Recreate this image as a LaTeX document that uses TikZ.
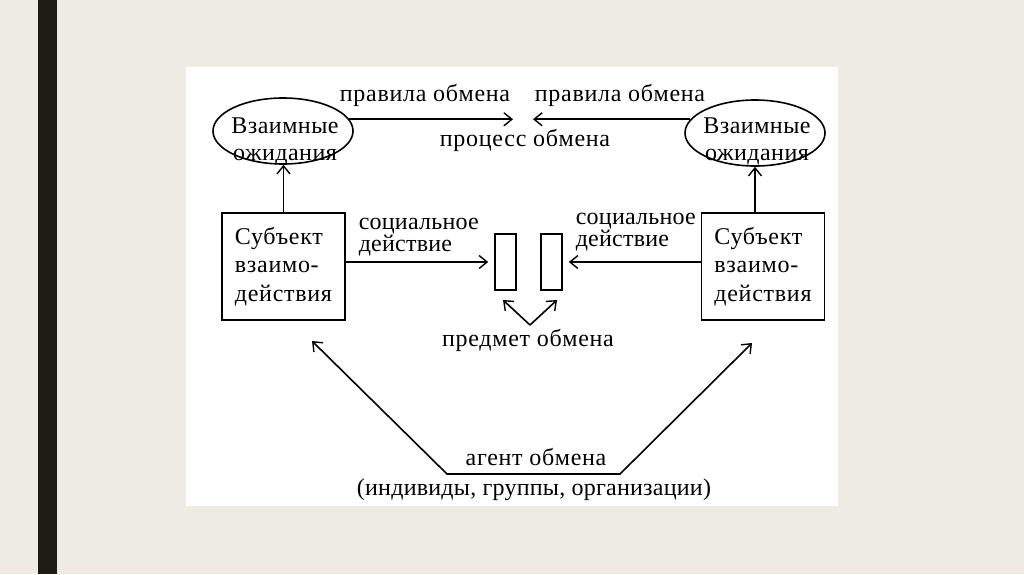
\documentclass[tikz,border=0pt]{standalone}
\usepackage{fontspec}
\setmainfont{Liberation Serif}[LetterSpace=3]
\usetikzlibrary{arrows.meta,shapes.geometric}
\definecolor{bg}{RGB}{237,235,228}
\definecolor{barc}{RGB}{28,28,18}
\begin{document}
\begin{tikzpicture}[x=1pt,y=-1pt,line width=1.6pt,
  barb/.tip={Straight Barb[length=8pt,width=13pt,line width=1.4pt]},
  arr/.style={-barb},
  lbl/.style={font=\fontsize{24}{27}\selectfont,inner sep=0pt},
  small/.style={font=\fontsize{24}{20}\selectfont\addfontfeature{LetterSpace=1},inner sep=0pt,align=left},
  ell/.style={draw,ellipse,minimum width=140pt,minimum height=66pt,inner sep=0pt},
  subj/.style={draw,minimum width=123pt,minimum height=107pt,inner sep=0pt,align=left,
    font=\fontsize{24}{28.5}\selectfont},
  obj/.style={draw,minimum width=21pt,minimum height=56pt,inner sep=0pt}]
\useasboundingbox (0,0) rectangle (1024,574);
\fill[bg] (0,0) rectangle (1024,574);
\fill[barc] (38,0) rectangle (57,574);
\fill[white] (186,67) rectangle (838,506);
% ellipses
\node[ell] (e1) at (283,131) {};
\node[lbl,align=center,font=\fontsize{24}{27}\selectfont\addfontfeature{LetterSpace=2}] (t1) at (285,141) {Взаимные\\ожидания};
\node[ell] (e2) at (755,133) {};
\node[lbl,align=center,font=\fontsize{24}{27}\selectfont\addfontfeature{LetterSpace=2}] (t2) at (757,141) {Взаимные\\ожидания};
% subject boxes
\node[subj] (b1) at (283.5,266.5) {Субъект\\взаимо-\\действия};
\node[subj] (b2) at (763,266.5) {Субъект\\взаимо-\\действия};
% exchange object
\node[obj] (r1) at (505.5,262) {};
\node[obj] (r2) at (551.5,262) {};
% labels
\node[lbl] (l1) at (425,95) {правила обмена};
\node[lbl] (l2) at (620,95) {правила обмена};
\node[lbl] (l3) at (525,140) {процесс обмена};
\node[small,anchor=west] (s1) at (358,237) {социальное\\действие};
\node[small,anchor=west] (s2) at (575,232) {социальное\\действие};
\node[lbl] (l4) at (528,340) {предмет обмена};
\node[lbl] (l5) at (536,457) {агент обмена};
\node[lbl,font=\fontsize{24}{27}\selectfont\addfontfeature{LetterSpace=1}] (l6) at (534,490) {(индивиды, группы, организации)};
% coordinates
\coordinate (p1) at (513,119);
\coordinate (p2) at (533,119);
\coordinate (apex) at (530,325);
\coordinate (v1) at (503,300);
\coordinate (v2) at (557,300);
\coordinate (a1) at (312,341);
\coordinate (c1) at (447,474);
\coordinate (c2) at (620,474);
\coordinate (a2) at (752,343);
% connectors
\draw[arr] (b1.north) -- (b1.north |- e1.south);
\draw[arr] (e2.south |- b2.north) -- (e2.south);
\draw[arr] (e1.10) -- (e1.10 -| p1);
\draw[arr] (e2.168) -- (e2.168 -| p2);
\draw[arr] (b1.east |- r1.west) -- ([xshift=-6pt]r1.west);
\draw[arr] (b2.west |- r2.east) -- ([xshift=6pt]r2.east);
\draw[arr] (apex) -- (v1);
\draw[arr] (apex) -- (v2);
\draw[barb-barb] (a1) -- (c1) -- (c2) -- (a2);
\end{tikzpicture}
\end{document}
